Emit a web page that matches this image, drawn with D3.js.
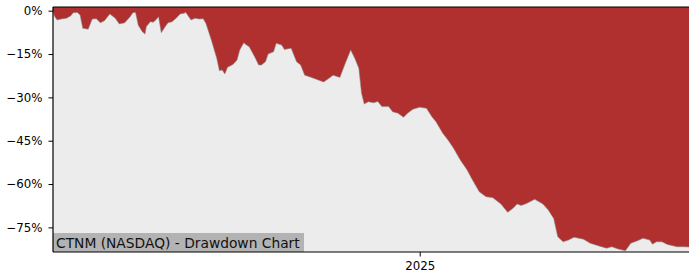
<!DOCTYPE html>
<html>
<head>
<meta charset="utf-8">
<script src="https://cdn.jsdelivr.net/npm/d3@7"></script>
<style>
  body { margin: 0; background: #fff; }
  text { font-family: "DejaVu Sans", sans-serif; }
</style>
</head>
<body>
<div id="viz"></div>
<script>
const dates = [
  "2024-04-05","2024-04-06","2024-04-08","2024-04-11","2024-04-15","2024-04-18","2024-04-20","2024-04-23","2024-04-25","2024-04-27",
  "2024-05-01","2024-05-04","2024-05-07","2024-05-10","2024-05-13","2024-05-17","2024-05-21","2024-05-24","2024-05-28","2024-06-01",
  "2024-06-03","2024-06-05","2024-06-07","2024-06-10","2024-06-12","2024-06-13","2024-06-16","2024-06-18","2024-06-20","2024-06-22",
  "2024-06-24","2024-06-27","2024-06-29","2024-07-02","2024-07-05","2024-07-08","2024-07-11","2024-07-12","2024-07-16","2024-07-19",
  "2024-07-22","2024-07-25","2024-07-27","2024-07-31","2024-08-04","2024-08-06","2024-08-08","2024-08-10","2024-08-12","2024-08-16",
  "2024-08-19","2024-08-21","2024-08-24","2024-08-26","2024-08-28","2024-09-01","2024-09-04","2024-09-06","2024-09-09","2024-09-11",
  "2024-09-15","2024-09-17","2024-09-21","2024-09-23","2024-09-28","2024-10-02","2024-10-05","2024-10-08","2024-10-13","2024-10-22",
  "2024-10-25","2024-10-29","2024-11-03","2024-11-07","2024-11-09","2024-11-11","2024-11-14","2024-11-17","2024-11-19","2024-11-21",
  "2024-11-24","2024-11-28","2024-12-01","2024-12-04","2024-12-09","2024-12-12","2024-12-16","2024-12-20","2024-12-23","2024-12-27",
  "2025-01-01","2025-01-06","2025-01-10","2025-01-13","2025-01-18","2025-01-22","2025-01-26","2025-01-31","2025-02-05","2025-02-09",
  "2025-02-14","2025-02-19","2025-02-24","2025-03-02","2025-03-07","2025-03-11","2025-03-14","2025-03-17","2025-03-21","2025-03-27",
  "2025-04-02","2025-04-06","2025-04-10","2025-04-13","2025-04-17","2025-04-21","2025-04-25","2025-05-02","2025-05-07","2025-05-14",
  "2025-05-19","2025-05-23","2025-05-27","2025-06-02","2025-06-06","2025-06-11","2025-06-15","2025-06-20","2025-06-22","2025-06-25",
  "2025-06-29","2025-07-03","2025-07-10","2025-07-14","2025-07-19"
];

const drawdown = [
  0.0,-1.8,-3.2,-2.9,-2.6,-1.8,-0.7,-0.6,-1.5,-6.1,
  -6.4,-2.9,-2.8,-4.2,-3.5,-1.1,-2.6,-4.6,-4.2,-2.1,
  -0.7,-0.6,-5.0,-7.3,-8.1,-5.5,-3.8,-4.0,-3.2,-2.1,
  -7.6,-5.5,-4.2,-3.8,-2.6,-1.1,-0.9,-0.5,-3.2,-2.6,
  -2.9,-2.8,-4.4,-10.1,-16.5,-20.8,-20.5,-21.9,-19.6,-18.6,
  -17.1,-13.6,-11.1,-11.9,-12.5,-15.9,-18.8,-18.8,-17.7,-15.0,
  -14.2,-11.3,-11.9,-13.4,-13.0,-17.7,-18.8,-22.3,-23.1,-24.7,
  -23.7,-22.3,-23.1,-18.2,-15.9,-13.6,-16.5,-19.9,-28.6,-32.3,
  -31.5,-31.9,-31.4,-33.2,-33.2,-35.0,-35.5,-36.9,-35.5,-34.1,
  -33.4,-33.8,-36.7,-38.4,-42.4,-44.8,-47.6,-51.7,-55.1,-58.6,
  -62.7,-64.4,-64.7,-66.9,-69.8,-68.4,-66.9,-67.4,-66.7,-65.3,
  -66.9,-69.0,-71.9,-78.2,-80.0,-79.4,-78.4,-79.1,-80.5,-81.5,
  -82.2,-81.7,-82.4,-83.1,-80.5,-79.6,-78.8,-79.4,-80.8,-80.0,
  -80.0,-80.9,-81.7,-81.7,-81.8
];

const yTicks = [0, -15, -30, -45, -60, -75];
const xTicks = ["2025-01-01"];
const title = "CTNM (NASDAQ) - Drawdown Chart";

const width = 700;
const height = 280;
const plot = { left: 53, right: 689, top: 7, bottom: 252 };

const parse = d3.timeParse("%Y-%m-%d");
const data = dates.map((d, i) => ({ date: parse(d), value: drawdown[i] }));

const svg = d3.select("#viz").append("svg")
    .attr("width", width)
    .attr("height", height);

const x = d3.scaleTime()
    .domain([parse("2024-04-05"), parse("2025-07-19")])
    .range([plot.left, plot.right]);

const y = d3.scaleLinear()
    .domain([-83.52, 1.28])
    .range([plot.bottom, plot.top]);

// plot background
svg.append("rect")
    .attr("x", plot.left).attr("y", plot.top)
    .attr("width", plot.right - plot.left).attr("height", plot.bottom - plot.top)
    .attr("fill", "#ececec");

// red drawdown area, from the curve up to the top of the plot
const area = d3.area()
    .x(d => x(d.date))
    .y0(plot.top)
    .y1(d => y(d.value));

svg.append("path")
    .datum(data)
    .attr("d", area)
    .attr("fill", "#b03030");

svg.append("path")
    .datum(data)
    .attr("d", d3.line().x(d => x(d.date)).y(d => y(d.value)))
    .attr("fill", "none")
    .attr("stroke", "#8a8a8a")
    .attr("stroke-width", 0.8)
    .attr("stroke-opacity", 0.7);

// title box
const label = svg.append("g");
label.append("rect")
    .attr("x", plot.left).attr("y", 233)
    .attr("width", 251).attr("height", plot.bottom - 233)
    .attr("fill", "#b3b3b3");
label.append("text")
    .attr("x", plot.left + 3).attr("y", 247.5)
    .attr("font-size", 13.8)
    .attr("fill", "#111")
    .text(title);

// axes
const yAxis = d3.axisLeft(y)
    .tickValues(yTicks)
    .tickSize(4.5)
    .tickPadding(6)
    .tickFormat(d => (d < 0 ? "\u2212" + Math.abs(d) : d) + "%");

const gy = svg.append("g")
    .attr("transform", `translate(${plot.left},0)`)
    .call(yAxis);
gy.select(".domain").remove();
gy.selectAll("text").attr("font-size", 11.8).attr("font-family", "DejaVu Sans").attr("fill", "#000");

const xAxis = d3.axisBottom(x)
    .tickValues(xTicks.map(parse))
    .tickSize(4.5)
    .tickPadding(5)
    .tickFormat(d3.timeFormat("%Y"));

const gx = svg.append("g")
    .attr("transform", `translate(0,${plot.bottom})`)
    .call(xAxis);
gx.select(".domain").remove();
gx.selectAll("text").attr("font-size", 11.8).attr("font-family", "DejaVu Sans").attr("fill", "#000");

// spines
svg.append("line").attr("x1", plot.left).attr("x2", plot.left).attr("y1", plot.top).attr("y2", plot.bottom)
    .attr("stroke", "#000").attr("stroke-width", 1.2);
svg.append("line").attr("x1", plot.left).attr("x2", plot.right).attr("y1", plot.top).attr("y2", plot.top)
    .attr("stroke", "#000").attr("stroke-width", 1.2);
svg.append("line").attr("x1", plot.left).attr("x2", plot.right).attr("y1", plot.bottom).attr("y2", plot.bottom)
    .attr("stroke", "#000").attr("stroke-width", 1.2);
</script>
</body>
</html>
